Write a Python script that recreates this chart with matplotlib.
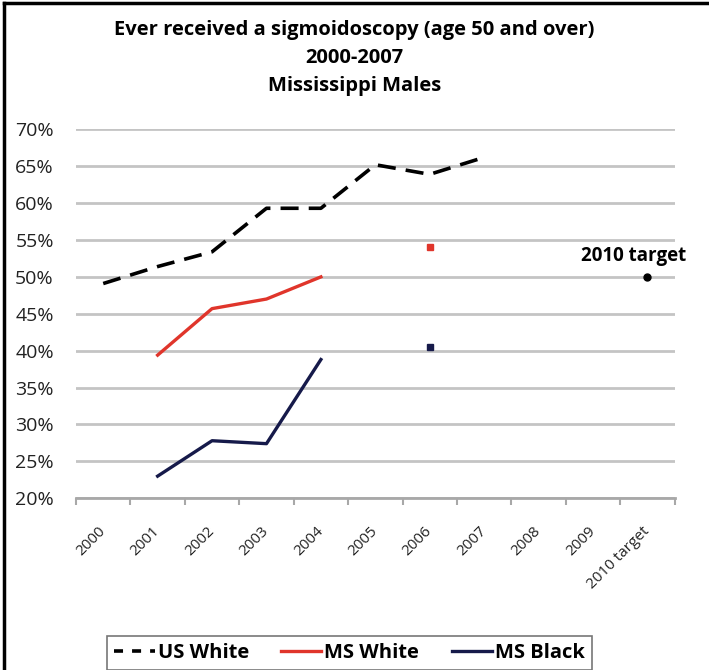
import numpy as np
import matplotlib.pyplot as plt
from matplotlib.lines import Line2D

plt.rcParams['font.family'] = ['Open Sans', 'DejaVu Sans']

# data (percent)
years = ['2000', '2001', '2002', '2003', '2004', '2005', '2006', '2007',
         '2008', '2009', '2010 target']
us_white = [49.1, 51.4, 53.4, 59.3, 59.3, 65.2, 63.9, 66.2,
            np.nan, np.nan, np.nan]
ms_white = [np.nan, 39.4, 45.7, 47.0, 50.0, np.nan, 54.0, np.nan,
            np.nan, np.nan, np.nan]
ms_black = [np.nan, 23.0, 27.8, 27.4, 38.8, np.nan, 40.5, np.nan,
            np.nan, np.nan, np.nan]
target = [np.nan] * 10 + [50.0]

red = '#e0352b'
navy = '#161a4a'
grid_c = '#c4c4c4'

fig = plt.figure(figsize=(7.09, 6.70), dpi=100)
ax = fig.add_axes([0.1072, 0.2563, 0.8443, 0.5507])

x = np.arange(len(years))


def isolated(vals):
    v = np.array(vals, dtype=float)
    ok = ~np.isnan(v)
    left = np.r_[False, ok[:-1]]
    right = np.r_[ok[1:], False]
    return np.where(ok & ~left & ~right, v, np.nan)


ax.plot(x, us_white, color='black', lw=2.6, linestyle=(0, (5, 2.8)),
        solid_capstyle='butt')
ax.plot(x, ms_white, color=red, lw=2.4)
ax.plot(x, isolated(ms_white), color=red, marker='s', ms=4.5, lw=0)
ax.plot(x, ms_black, color=navy, lw=2.4)
ax.plot(x, isolated(ms_black), color=navy, marker='s', ms=4.5, lw=0)
ax.plot(x, target, color='black', marker='o', ms=5, lw=0)
ax.annotate('2010 target', (x[-1], target[-1]), xytext=(-10, 15),
            textcoords='offset points', ha='center', va='center',
            fontsize=13.5, fontweight='bold')

ax.set_xlim(-0.5, len(years) - 0.5)
ax.set_ylim(20, 70)
ax.set_yticks(np.arange(20, 71, 5))
ax.set_yticklabels([f'{v}%' for v in range(20, 71, 5)])
ax.yaxis.grid(True, color=grid_c, lw=2)
ax.set_axisbelow(True)
ax.tick_params(axis='y', length=0, pad=16, labelsize=14, labelcolor='#222222')

ax.set_xticks(np.arange(-0.5, len(years), 1.0))
ax.set_xticklabels([])
ax.set_xticks(x, minor=True)
ax.set_xticklabels(years, minor=True, rotation=45, ha='right', va='center',
                   rotation_mode='anchor', fontsize=11, color='#222222')
ax.tick_params(axis='x', which='major', length=5, width=1.5, color='#a8a8a8')
ax.tick_params(axis='x', which='minor', length=0, pad=22)

for s in ['top', 'right', 'left']:
    ax.spines[s].set_visible(False)
ax.spines['bottom'].set_color('#a8a8a8')
ax.spines['bottom'].set_linewidth(2)

fig.text(0.5, 0.955, 'Ever received a sigmoidoscopy (age 50 and over)',
         ha='center', va='center', fontsize=14.5, fontweight='bold')
fig.text(0.5, 0.913, '2000-2007', ha='center', va='center',
         fontsize=14.5, fontweight='bold')
fig.text(0.5, 0.871, 'Mississippi Males', ha='center', va='center',
         fontsize=14.5, fontweight='bold')

handles = [Line2D([], [], color='black', lw=2.6, linestyle=(0, (2.5, 2.5))),
           Line2D([], [], color=red, lw=2.4),
           Line2D([], [], color=navy, lw=2.4)]
leg = fig.legend(handles, ['US White', 'MS White', 'MS Black'], loc='center',
                 bbox_to_anchor=(0.493, 0.025), ncol=3, frameon=True,
                 fancybox=False, edgecolor='#555555', handlelength=2.0,
                 handletextpad=0.15, columnspacing=1.6,
                 prop={'weight': 'bold', 'size': 14.5}, borderpad=0.35)
leg.get_frame().set_linewidth(1.2)

# outer border of the chart area
fig.add_artist(Line2D([0.005, 0.005], [0, 0.995], color='black', lw=2.5,
                      transform=fig.transFigure))
fig.add_artist(Line2D([0.005, 1], [0.995, 0.995], color='black', lw=2.5,
                      transform=fig.transFigure))

fig.savefig('out.png', dpi=100)
